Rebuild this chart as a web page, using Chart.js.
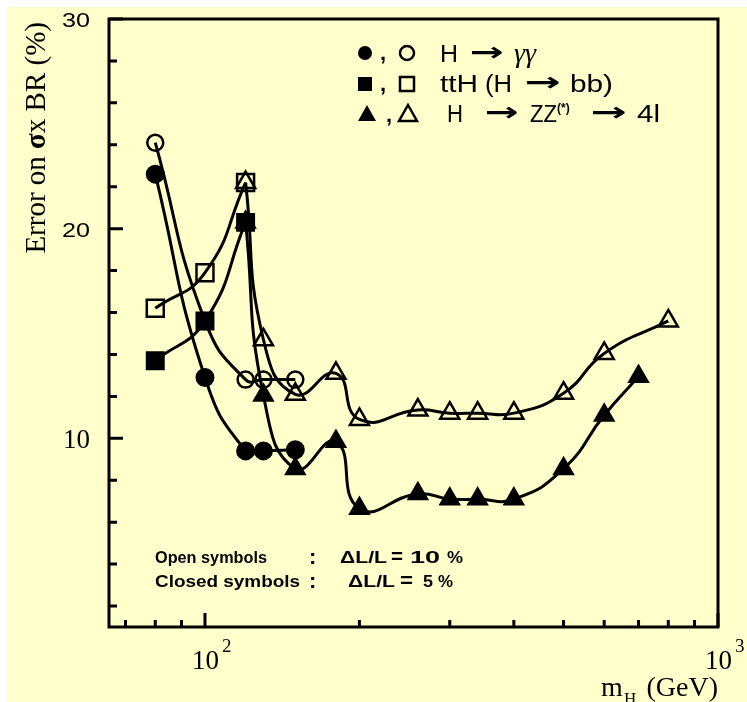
<!DOCTYPE html>
<html>
<head>
<meta charset="utf-8">
<script src="https://cdn.jsdelivr.net/npm/chart.js@4.4.1/dist/chart.umd.min.js"></script>
<style>
  html, body { margin: 0; padding: 0; background: #fff; }
  #wrap { width: 747px; height: 702px; }
</style>
</head>
<body>
<div id="wrap"><canvas id="chart" width="747" height="702"></canvas></div>
<script>
// Higgs mass points (GeV) and error on sigma x BR (%)
const massGamma = [80, 100, 120, 130, 150];
const gammaOpen = [24.1, 15.6, 12.8, 12.8, 12.8];    // dL/L = 10 %
const gammaClosed = [22.6, 12.9, 9.4, 9.4, 9.45];    // dL/L = 5 %

const massTth = [80, 100, 120];
const tthOpen = [16.2, 17.9, 22.2];
const tthClosed = [13.7, 15.6, 20.3];

const massZzOpen = [120, 130, 150, 180, 200, 260, 300, 340, 400, 500, 600, 800];
const zzOpen = [22.2, 14.7, 12.1, 13.1, 10.9, 11.35, 11.2, 11.2, 11.2, 12.15, 14.05, 15.6];
const massZzClosed = [120, 130, 150, 180, 200, 260, 300, 340, 400, 500, 600, 700];
const zzClosed = [20.3, 12.05, 8.55, 9.85, 6.65, 7.35, 7.1, 7.1, 7.1, 8.55, 11.1, 12.95];

// axis ticks
const yMajorTicks = [10, 20, 30];
const yMinorTicks = [2, 4, 6, 8, 12, 14, 16, 18, 22, 24, 26, 28];
const xMajorTicks = [100, 1000];
const xMajorExponents = ['2', '3'];
const xMinorTicks = [70, 80, 90, 200, 300, 400, 500, 600, 700, 800, 900];

const PANEL = '#ffffcc';
const INK = '#000';
const SANS = '"Liberation Sans", Arial, sans-serif';
const SERIF = '"Liberation Serif", "Times New Roman", serif';

function toPoints(xs, ys) {
  return xs.map((x, i) => ({ x: x, y: ys[i] }));
}

function series(xs, ys, style, filled, radius, order) {
  return {
    data: toPoints(xs, ys),
    showLine: true,
    borderColor: INK,
    borderWidth: 3,
    tension: 0.5,
    fill: false,
    pointStyle: style,
    pointRadius: radius,
    pointBorderColor: INK,
    pointBorderWidth: filled ? 2 : 2.5,
    pointBackgroundColor: filled ? INK : 'rgba(0,0,0,0)',
    order: order
  };
}

// small marker glyphs for the key at the top
function drawMarker(ctx, style, x, y, filled) {
  ctx.save();
  ctx.lineWidth = 2.5;
  ctx.strokeStyle = INK;
  ctx.fillStyle = INK;
  ctx.beginPath();
  if (style === 'circle') {
    ctx.arc(x, y, 7, 0, Math.PI * 2);
  } else if (style === 'rect') {
    ctx.rect(x - 7, y - 7, 14, 14);
  } else {
    ctx.moveTo(x, y - 9);
    ctx.lineTo(x + 9, y + 7);
    ctx.lineTo(x - 9, y + 7);
    ctx.closePath();
  }
  if (filled) ctx.fill(); else ctx.stroke();
  ctx.restore();
}

function text(ctx, str, x, y, font, align) {
  ctx.font = font;
  ctx.textAlign = align || 'left';
  ctx.fillText(str, x, y);
}

// text squeezed or stretched to a given width, starting at x
function textW(ctx, str, x, y, font, width) {
  ctx.save();
  ctx.font = font;
  ctx.textAlign = 'left';
  const w = ctx.measureText(str).width;
  ctx.translate(x, y);
  ctx.scale(width / w, 1);
  ctx.fillText(str, 0, 0);
  ctx.restore();
}

// stretched arrow glyph
function arrow(ctx, x, y, width) {
  textW(ctx, '\u2192', x, y, 'bold 26px "DejaVu Sans", sans-serif', width);
}

const framePlugin = {
  id: 'frame',
  beforeDraw(chart) {
    const ctx = chart.ctx;
    ctx.save();
    ctx.fillStyle = '#fff';
    ctx.fillRect(0, 0, chart.width, chart.height);
    ctx.fillStyle = PANEL;
    ctx.fillRect(7, 7, chart.width - 7, chart.height - 7);
    ctx.restore();
  },
  afterDraw(chart) {
    const ctx = chart.ctx;
    const a = chart.chartArea;
    const xs = chart.scales.x;
    const ys = chart.scales.y;
    ctx.save();
    ctx.strokeStyle = INK;
    ctx.fillStyle = INK;
    ctx.lineWidth = 3;
    ctx.strokeRect(a.left, a.top, a.right - a.left, a.bottom - a.top);

    // inward ticks on the left and bottom axes
    ctx.beginPath();
    yMinorTicks.forEach(v => {
      const py = ys.getPixelForValue(v);
      ctx.moveTo(a.left, py);
      ctx.lineTo(a.left + 8, py);
    });
    yMajorTicks.forEach(v => {
      const py = ys.getPixelForValue(v);
      ctx.moveTo(a.left, py);
      ctx.lineTo(a.left + 14, py);
    });
    xMinorTicks.forEach(v => {
      const px = xs.getPixelForValue(v);
      ctx.moveTo(px, a.bottom);
      ctx.lineTo(px, a.bottom - 7);
    });
    xMajorTicks.forEach(v => {
      const px = xs.getPixelForValue(v);
      ctx.moveTo(px, a.bottom);
      ctx.lineTo(px, a.bottom - 14);
    });
    ctx.stroke();

    // y tick labels
    ctx.textBaseline = 'alphabetic';
    yMajorTicks.forEach(v => {
      const py = ys.getPixelForValue(v);
      if (v === 10) {
        text(ctx, String(v), 90, py + 10, '27px ' + SERIF, 'right');
      } else {
        textW(ctx, String(v), 62, py + 8, '21px ' + SANS, 28);
      }
    });

    // x tick labels, 10^n
    xMajorTicks.forEach((v, i) => {
      const px = xs.getPixelForValue(v);
      text(ctx, '10', px - 13, 669, '27px ' + SERIF);
      text(ctx, xMajorExponents[i], px + 17, 652, '19px ' + SERIF);
    });

    // x title: m_H (GeV)
    text(ctx, 'm', 601, 696, '28px ' + SERIF);
    text(ctx, 'H', 624, 704, '17px ' + SERIF);
    text(ctx, '(GeV)', 718, 696, '28px ' + SERIF, 'right');

    // y title, rotated
    ctx.save();
    ctx.translate(45, 22);
    ctx.rotate(-Math.PI / 2);
    const pieces = [
      ['Error on ', '29px ' + SERIF],
      ['\u03c3', 'bold 29px ' + SERIF],
      ['x BR (%)', '29px ' + SERIF]
    ];
    let total = 0;
    pieces.forEach(p => { ctx.font = p[1]; total += ctx.measureText(p[0]).width; });
    let cx = -total;
    pieces.forEach(p => {
      ctx.font = p[1];
      ctx.textAlign = 'left';
      ctx.fillText(p[0], cx, 0);
      cx += ctx.measureText(p[0]).width;
    });
    ctx.restore();

    // key
    const keyFont = '23px ' + SANS;
    drawMarker(ctx, 'circle', 365, 53, true);
    text(ctx, ',', 380, 60, 'bold 22px ' + SANS);
    drawMarker(ctx, 'circle', 407, 53, false);
    textW(ctx, 'H', 440, 62, keyFont, 18);
    arrow(ctx, 470, 61, 34);
    text(ctx, '\u03b3\u03b3', 514, 62, 'italic 28px ' + SERIF);

    drawMarker(ctx, 'rect', 365, 84, true);
    text(ctx, ',', 380, 91, 'bold 22px ' + SANS);
    drawMarker(ctx, 'rect', 407, 84, false);
    textW(ctx, 'ttH', 440, 92, keyFont, 38);
    textW(ctx, '(H', 485, 92, keyFont, 27);
    arrow(ctx, 525, 91, 36);
    textW(ctx, 'bb)', 570, 92, keyFont, 43);

    drawMarker(ctx, 'triangle', 367, 114, true);
    text(ctx, ',', 386, 122, 'bold 22px ' + SANS);
    drawMarker(ctx, 'triangle', 408, 114, false);
    textW(ctx, 'H', 447, 122, keyFont, 16);
    arrow(ctx, 485, 121, 34);
    textW(ctx, 'ZZ', 530, 122, keyFont, 27);
    text(ctx, '(*)', 557, 112, 'bold 12px ' + SANS);
    arrow(ctx, 591, 121, 36);
    textW(ctx, '4l', 637, 122, keyFont, 23);

    // luminosity notes
    const noteFont = 'bold 16px ' + SANS;
    textW(ctx, 'Open symbols', 155, 563, noteFont, 112);
    text(ctx, ':', 309, 564, 'bold 22px ' + SANS);
    textW(ctx, '\u0394L/L', 340, 563, noteFont, 47);
    textW(ctx, '=', 391, 563, 'bold 20px ' + SANS, 12);
    textW(ctx, '10', 410, 563, noteFont, 30);
    textW(ctx, '%', 447, 563, noteFont, 16);
    textW(ctx, 'Closed symbols', 155, 587, noteFont, 145);
    text(ctx, ':', 309, 588, 'bold 22px ' + SANS);
    textW(ctx, '\u0394L/L', 348, 587, noteFont, 47);
    textW(ctx, '=', 400, 587, 'bold 20px ' + SANS, 13);
    textW(ctx, '5', 423, 587, noteFont, 10);
    textW(ctx, '%', 438, 587, noteFont, 15);

    ctx.restore();
  }
};

const ctx = document.getElementById('chart').getContext('2d');
new Chart(ctx, {
  type: 'line',
  data: {
    datasets: [
      series(massTth, tthClosed, 'rect', true, 12, 1),
      series(massGamma, gammaClosed, 'circle', true, 8.5, 2),
      series(massZzClosed, zzClosed, 'triangle', true, 11, 3),
      series(massTth, tthOpen, 'rect', false, 12, 4),
      series(massZzOpen, zzOpen, 'triangle', false, 11, 5),
      series(massGamma, gammaOpen, 'circle', false, 8, 6)
    ]
  },
  options: {
    responsive: false,
    animation: false,
    events: [],
    layout: {
      padding: { left: 109, right: 29, top: 19, bottom: 75 }
    },
    plugins: {
      legend: { display: false },
      tooltip: { enabled: false }
    },
    scales: {
      x: {
        type: 'logarithmic',
        min: 65,
        max: 1000,
        display: false
      },
      y: {
        type: 'linear',
        min: 1,
        max: 30,
        display: false
      }
    }
  },
  plugins: [framePlugin]
});
</script>
</body>
</html>
